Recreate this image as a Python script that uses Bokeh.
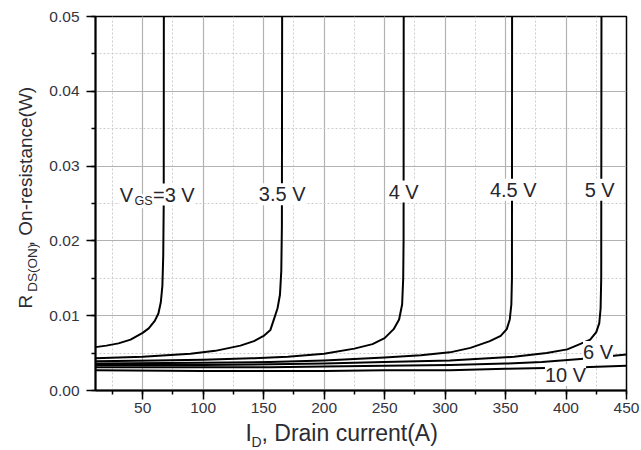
import math
from bokeh.plotting import figure
from bokeh.layouts import row, column
from bokeh.models import Range1d, SingleIntervalTicker, PrintfTickFormatter, Label
from bokeh.embed import file_html
from bokeh.resources import INLINE

# ---------------- data ----------------
id_3v = [11, 20, 30, 40, 50, 55, 60, 63, 65, 66.3, 67, 67.4, 67.5]
r_3v = [0.0058, 0.0060, 0.0063, 0.0068, 0.0077, 0.0083, 0.0093, 0.0103, 0.0118, 0.0140, 0.0180, 0.0250, 0.0500]

id_35v = [11, 50, 89.5, 110, 130.8, 142, 150, 155.6, 158.5, 161.5, 163.5, 164.6, 165.1, 165.3]
r_35v = [0.0043, 0.0045, 0.0049, 0.0053, 0.0060, 0.0066, 0.0073, 0.0081, 0.0095, 0.0110, 0.0128, 0.0160, 0.0220, 0.0500]

id_4v = [11, 60, 100, 140, 170, 200, 225, 240, 250, 257.5, 262, 264.5, 265.4, 265.7, 265.8]
r_4v = [0.0039, 0.0040, 0.0041, 0.0043, 0.0045, 0.0049, 0.0056, 0.0062, 0.0070, 0.0082, 0.0095, 0.0115, 0.0150, 0.0200, 0.0500]

id_45v = [11, 100, 155, 200, 250, 280, 304, 321, 337, 346, 351, 353.5, 354.8, 355.3, 355.4]
r_45v = [0.0036, 0.0037, 0.0038, 0.0040, 0.0044, 0.0047, 0.0051, 0.0057, 0.0066, 0.0073, 0.0082, 0.0095, 0.0115, 0.0150, 0.0500]

id_5v = [11, 100, 200, 250, 304, 357, 384, 401, 410, 420, 425, 427.5, 428.6, 429.1, 429.3]
r_5v = [0.0034, 0.0034, 0.0036, 0.0038, 0.0040, 0.0045, 0.0050, 0.0055, 0.0061, 0.0068, 0.0078, 0.0090, 0.0110, 0.0150, 0.0500]

id_6v = [11, 100, 155, 200, 250, 304, 350, 380, 412, 450]
r_6v = [0.0031, 0.0031, 0.0031, 0.0032, 0.0033, 0.0034, 0.0036, 0.0038, 0.0042, 0.0048]

id_10v = [11, 100, 200, 250, 304, 350, 414, 450]
r_10v = [0.0027, 0.0026, 0.0026, 0.0027, 0.0027, 0.0029, 0.0031, 0.0033]

curve_labels = ["3 V", "3.5 V", "4 V", "4.5 V", "5 V", "6 V", "10 V"]
x_ticks_step = 50
y_ticks_step = 0.01

X_MIN, X_MAX = 11, 450
Y_MIN, Y_MAX = 0.0, 0.05

# ---------------- page geometry ----------------
YT_W = 40          # width of the y-title strip
MAIN_W, MAIN_H = 600, 420
XT_H = 30          # height of the x-title strip
FULL_W = YT_W + MAIN_W
TOTAL_H = MAIN_H + XT_H
FR_L, FR_R, FR_T, FR_B = 95.0, 626.0, 16.0, 390.0   # frame on the page

def px_x(px):
    return X_MIN + (px - FR_L) * (X_MAX - X_MIN) / (FR_R - FR_L)

def px_y(py):
    return Y_MIN + (FR_B - py) * (Y_MAX - Y_MIN) / (FR_B - FR_T)

def bshift(size_px):
    # Bokeh places the "alphabetic" anchor about a third of an em above the baseline
    return 0.35 * size_px

p = figure(width=MAIN_W, height=MAIN_H,
           x_range=Range1d(X_MIN, X_MAX), y_range=Range1d(Y_MIN, Y_MAX),
           output_backend="svg", toolbar_location=None,
           min_border_left=int(FR_L - YT_W), min_border_right=int(FULL_W - FR_R),
           min_border_top=int(FR_T), min_border_bottom=int(MAIN_H - FR_B))

p.background_fill_color = "white"
p.border_fill_color = "white"
p.outline_line_color = "black"
p.outline_line_width = 1.5

xt = SingleIntervalTicker(interval=x_ticks_step, num_minor_ticks=2)
yt = SingleIntervalTicker(interval=y_ticks_step, num_minor_ticks=2)
p.xaxis.ticker = xt
p.yaxis.ticker = yt
p.xgrid.ticker = xt
p.ygrid.ticker = yt
p.yaxis.formatter = PrintfTickFormatter(format="%.2f")

for ax in (p.xaxis[0], p.yaxis[0]):
    ax.axis_line_color = "black"
    ax.axis_line_width = 2
    ax.major_tick_line_color = "black"
    ax.major_tick_line_width = 1.5
    ax.minor_tick_line_color = "black"
    ax.minor_tick_line_width = 1.5
    ax.major_tick_in = 0
    ax.major_tick_out = 9
    ax.minor_tick_in = 0
    ax.minor_tick_out = 4
    ax.major_label_text_font = "Liberation Sans"
    ax.major_label_text_font_size = "15.5px"
    ax.major_label_text_color = "#34343f"
p.xaxis.major_label_standoff = 3
p.yaxis.major_label_standoff = 7

for g in (p.xgrid[0], p.ygrid[0]):
    g.grid_line_color = "#b2b2b2"
    g.grid_line_width = 1.2
    g.minor_grid_line_color = "#cdcdcd"
    g.minor_grid_line_width = 1
    g.minor_grid_line_dash = "2 2"

curves = [(id_3v, r_3v), (id_35v, r_35v), (id_4v, r_4v), (id_45v, r_45v),
          (id_5v, r_5v), (id_6v, r_6v), (id_10v, r_10v)]
for xs, ys in curves:
    p.line(xs, ys, line_color="black", line_width=2, line_join="round")

LBL_FONT = "Liberation Sans"
LBL_COLOR = "#26262e"

def add_label(fig, x, y, text, size=20.0, align="center", bg=True,
              font=LBL_FONT, color=LBL_COLOR, angle=0.0):
    kw = dict(x=x, y=y, text=text, text_font=font, text_font_size="%.1fpx" % size,
              text_color=color, text_align=align, text_baseline="alphabetic",
              angle=angle)
    if bg:
        kw.update(background_fill_color="white", background_fill_alpha=1.0)
    lab = Label(**kw)
    fig.add_layout(lab)
    return lab

def plot_label(px, baseline_py, text, size=20.0, align="center", x_data=None):
    xd = px_x(px) if x_data is None else x_data
    add_label(p, xd, px_y(baseline_py - bshift(size)), text, size=size, align=align)

# V_GS = 3 V (composite with subscript)
plot_label(119.3, 201.0, "V", align="left")
plot_label(134.0, 205.0, "GS", size=12.5, align="left")
plot_label(152.5, 201.0, "=" + curve_labels[0], align="left")
# labels centred on each curve's limiting current
plot_label(0, 200.7, curve_labels[1], x_data=id_35v[-1])
plot_label(0, 198.0, curve_labels[2], x_data=id_4v[-1])
plot_label(0, 196.3, curve_labels[3], x_data=id_45v[-1] + 1)
plot_label(0, 196.3, curve_labels[4], x_data=id_5v[-1] - 1.5)
plot_label(597.5, 358.5, curve_labels[5])
plot_label(565.0, 381.5, curve_labels[6])

# ---------------- axis-title strips (real text with subscripts) ----------------
TFONT = "Liberation Sans"
TCOLOR = "#2b2b33"

def strip(w, h):
    f = figure(width=w, height=h, x_range=Range1d(0, w), y_range=Range1d(0, h),
               output_backend="svg", toolbar_location=None,
               x_axis_type=None, y_axis_type=None, min_border=0)
    f.grid.visible = False
    f.outline_line_color = None
    f.background_fill_color = "white"
    f.border_fill_color = "white"
    return f

# x title strip: full width, page y MAIN_H..TOTAL_H
fx = strip(FULL_W, XT_H)
def xt_label(px, baseline_py, text, size):
    add_label(fx, px, TOTAL_H - (baseline_py - bshift(size)), text, size=size,
              align="left", bg=False, font=TFONT, color=TCOLOR)
xt_label(245.0, 441.0, "I", 23.0)
xt_label(251.0, 446.0, "D", 14.0)
xt_label(261.0, 441.0, ", Drain current(A)", 23.0)

# y title strip: page x 0..YT_W, page y 0..MAIN_H
fy = strip(YT_W, MAIN_H)
def yt_label(baseline_px, start_py, text, size):
    add_label(fy, baseline_px - bshift(size), MAIN_H - start_py, text, size=size,
              align="left", bg=False, font=TFONT, color=TCOLOR, angle=math.pi / 2)
yt_label(31.5, 328.0, "R", 19.0)
yt_label(36.5, 309.0, "DS(ON)", 13.5)
yt_label(31.5, 258.0, ", On-resistance(W)", 19.0)

layout = column(row(fy, p), fx)
open("out.html", "w").write(file_html(layout, INLINE))
